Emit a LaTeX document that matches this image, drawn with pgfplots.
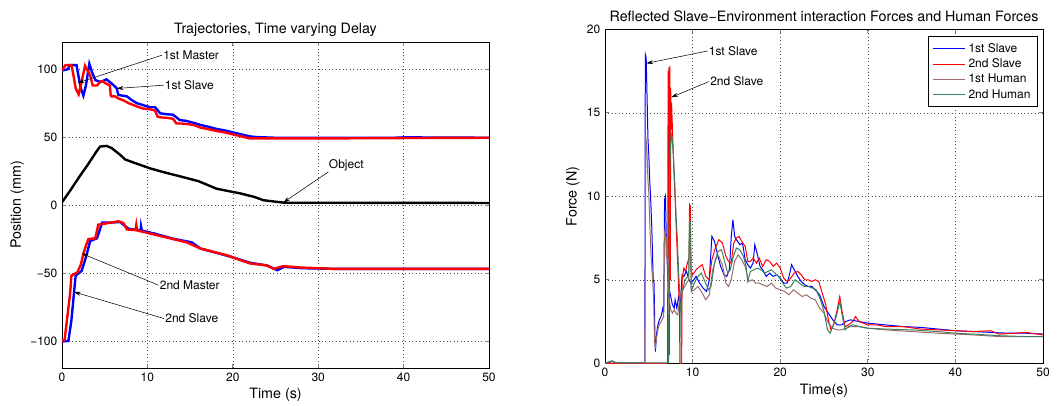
\documentclass[border=0pt]{standalone}
\usepackage{fontspec}
\setmainfont{TeX Gyre Heros}
\usepackage{pgfplots}
\pgfplotsset{compat=1.18}
\usetikzlibrary{arrows.meta}

\definecolor{mblue}{rgb}{0,0,1}
\definecolor{mred}{rgb}{1,0,0}
\definecolor{hbrown}{HTML}{9E6B6B}
\definecolor{hgreen}{HTML}{3E7F5E}

\pgfplotsset{
  mstyle/.style={
    scale only axis, xmin=0, xmax=50, xtick={0,10,...,50},
    grid=major,
    major grid style={black!70, line width=0.4pt, dash pattern=on 0.4pt off 2.2pt},
    tick align=inside, tick pos=both, major tick length=3pt,
    axis line style={line width=0.6pt},
    tick style={line width=0.5pt},
    tick label style={font=\fontsize{9}{10}\selectfont},
    label style={font=\fontsize{10.7}{12}\selectfont},
    title style={font=\fontsize{10.7}{12}\selectfont, anchor=center},
    every axis title shift=0pt,
    /pgf/number format/assume math mode=true,
  },
}
\tikzset{
  note/.style={font=\fontsize{9}{10}\selectfont, inner sep=0.8pt},
  arr/.style={-{Stealth[length=5pt,width=3pt]}, line width=0.4pt},
}

\begin{document}
\begin{tikzpicture}
\path[use as bounding box] (0,0) rectangle (794.25pt,303.75pt);

% ---------------- left: trajectories ----------------
\begin{axis}[mstyle,
  at={(46.5pt,27.75pt)}, anchor=south west,
  width=320.25pt, height=244.5pt,
  ymin=-120, ymax=120, ytick={-100,-50,0,50,100},
  yticklabels={−100,−50,0,50,100},
  title={Trajectories, Time varying Delay},
  title style={at={(axis description cs:0.5,1.038)}},
  xlabel={Time (s)}, ylabel={Position (mm)},
  xlabel style={at={(axis description cs:0.5,-0.083)}, anchor=center},
  ylabel style={at={(axis description cs:-0.105,0.5)}, anchor=center},
]
\addplot[color=mblue, line width=1.8pt] table {
0 99
0.7 100
0.9 103
1.7 103
1.9 96
2.2 86
2.5 80.5
2.8 88
3.2 104
3.5 98
3.9 92
4.5 90.5
5.2 92.5
5.8 89.5
6.4 86
6.6 81
7.6 80
8.1 77.5
8.75 75
9.5 73.5
10.3 72
10.9 72
11.5 67.5
12.3 66.8
13.0 66.5
13.8 62.5
14.5 62
15.4 60.5
16.2 59
17.2 57.5
18.1 56
19 55
20.0 53.5
21 52
22.0 50.5
22.8 50
25 49.5
30 49.5
39 49.5
40 49.8
50 49.5
};
\addplot[color=mred, line width=1.8pt] table {
0 99
0.4 103
1.1 103
1.3 97
1.6 86
1.95 81.5
2.2 88
2.7 102.5
3.0 99
3.3 95.5
3.6 88
4.1 88
4.5 91
4.8 91
5.0 90
5.6 88
5.7 81
5.8 80
6.2 80
6.6 78.5
7.2 77
7.8 75
8.4 73.5
9.0 72
9.5 71
10.3 70.5
10.9 69.5
11.2 65
11.6 64.5
12.5 64
13.0 63.5
13.4 60
14.0 60
14.8 59.5
15.4 59
16.2 57
17.0 56
18.1 54.5
19.0 53.5
20.0 52
21.0 50.5
22.0 49
23.6 49
30 49
40 49.3
50 49.5
};
\addplot[color=black, line width=1.8pt] table {
0 2
1 11
2 20.5
3 29.5
4 39
4.45 43
5.2 43.5
5.8 42
6.2 40
6.8 37
7.4 33.5
8.5 31
10.3 27
12 24
14.2 20.5
16 17.5
18.1 12
20.9 8.5
22.5 6
23.6 3.5
26 1.7
50 1.5
};
\addplot[color=mblue, line width=1.8pt] table {
0 -100.5
0.75 -100
1.1 -85
1.4 -65
1.6 -52
2.3 -48.5
2.8 -38.5
3.3 -26.5
4.1 -24.5
4.7 -13
5.6 -13
6.8 -12.5
7.8 -17.5
9.2 -18.7
9.25 -15.5
9.35 -18.8
10.8 -21
13 -24.8
15.2 -27.5
16.2 -32
20 -38.5
22 -42.5
24 -44.5
25.2 -48
26 -45.5
28 -46.5
32 -47
50 -47
};
\addplot[color=mred, line width=1.8pt] table {
0 -100
0.3 -99.5
0.95 -65
1.1 -52
1.8 -49.5
2.2 -44
2.5 -36
2.8 -30
3.1 -25
3.9 -24.5
4.25 -14.5
5.2 -13.5
6.6 -12
7.2 -13.3
7.6 -18
8.6 -18.5
8.7 -14.5
8.8 -18.7
10.3 -21
12.3 -24
14.6 -27.5
16.2 -32
19.3 -37
22 -43
24 -44.5
24.8 -47
25.9 -45
27.9 -46
31.8 -47
50 -47
};
\draw[arr] (11.7,110.3) -- (1.84,89.9);
\node[note, anchor=west] at (11.7,110.3) {1st Master};
\draw[arr] (11.9,88.2) -- (6.4,85.8);
\node[note, anchor=west] at (11.9,88.2) {1st Slave};
\draw[arr] (31.2,24.4) -- (25.9,1.8);
\node[note, anchor=south west] at (31.1,24.0) {Object};
\draw[arr] (11.3,-59) -- (2.3,-35.7);
\node[note, anchor=west] at (11.3,-59) {2nd Master};
\draw[arr] (11.95,-83.6) -- (1.4,-64);
\node[note, anchor=west] at (11.95,-83.6) {2nd Slave};
\end{axis}

% ---------------- right: forces ----------------
\begin{axis}[mstyle,
  at={(453.75pt,31.3pt)}, anchor=south west,
  width=328.5pt, height=250.5pt,
  ymin=0, ymax=20, ytick={0,5,...,20},
  title={Reflected Slave−Environment interaction Forces and Human Forces},
  title style={at={(axis description cs:0.5,1.038)}},
  xlabel={Time(s)}, ylabel={Force (N)},
  xlabel style={at={(axis description cs:0.5,-0.081)}, anchor=center},
  ylabel style={at={(axis description cs:-0.073,0.5)}, anchor=center},
  legend style={at={(0.988,0.98)}, anchor=north east,
    inner xsep=3pt, inner ysep=3pt, row sep=-0.6pt,
    font=\fontsize{9}{10}\selectfont, thick},
  legend cell align=left,
  legend image code/.code={%
    \draw[#1, line width=0.75pt] (0pt,0pt) -- (24pt,0pt);},
]
\addplot[color=mblue, line width=0.75pt] table {
0 0
0.5 0.05
0.8 0.12
1.2 0.03
2 0.02
4.55 0.02
4.6 18.5
4.7 18.3
4.8 16.0
4.9 13.5
5.0 12.5
5.1 11.0
5.2 10.0
5.35 8.0
5.5 5.0
5.6 4.8
5.7 1.5
5.75 0.7
5.9 1.8
6.0 2.2
6.2 2.6
6.4 2.8
6.6 3.3
6.7 3.0
6.8 9.8
6.9 10.0
7.0 7.5
7.1 6.0
7.2 5.0
7.3 4.5
7.5 4.0
7.7 3.5
7.9 3.3
8.0 3.8
8.2 3.3
8.4 4.0
8.6 3.5
8.8 5.3
9.0 5.2
9.3 5.5
9.6 5.0
9.8 4.8
10.0 4.9
10.4 5.2
10.8 4.8
11.2 4.5
11.6 4.3
11.9 5.0
12.2 7.6
12.5 7.3
12.8 6.6
13.2 5.8
13.6 5.3
13.9 5.2
14.2 5.6
14.4 7.5
14.6 8.6
14.8 7.6
15.0 7.4
15.4 7.1
15.7 7.2
16.0 6.2
16.3 5.9
16.6 5.7
16.9 6.0
17.1 7.1
17.4 6.5
17.7 5.8
18.0 5.6
18.4 5.2
18.8 5.4
19.2 5.2
19.6 5.3
20.0 5.1
20.4 4.8
20.8 4.8
21.1 5.4
21.3 5.9
21.6 5.6
22.0 5.2
22.4 4.9
22.8 4.7
23.2 4.6
23.6 4.6
24.0 4.4
24.5 4.1
25.0 3.4
25.5 3.0
26.0 2.6
26.5 2.3
27.0 2.3
27.5 2.5
28.0 2.6
29.0 2.5
30.0 2.4
31 2.35
32 2.3
34 2.2
36 2.15
38 2.05
40 1.95
42 1.9
44 1.85
46 1.8
48 1.8
50 1.75
};
\addlegendentry{1st Slave}
\addplot[color=mred, line width=0.75pt] table {
0 0
4 0
7.15 0
7.2 17.5
7.25 9
7.3 17.7
7.35 0.5
7.4 17.8
7.45 5
7.5 16.5
7.55 14.0
7.6 15.6
7.7 14.0
7.8 12.5
7.9 11.0
8.0 10.0
8.1 8.5
8.2 7.2
8.3 6.0
8.4 4.5
8.5 3.5
8.55 0
8.75 0
8.8 5.0
9.0 5.7
9.2 5.5
9.4 6.0
9.6 6.3
9.65 9.5
9.75 9.4
9.8 5.6
10.0 5.3
10.4 5.6
10.8 5.8
11.1 5.9
11.5 5.2
11.9 5.0
12.2 6.2
12.6 6.9
13.0 7.4
13.4 7.2
13.8 6.4
14.1 6.1
14.4 6.0
14.7 7.2
15.0 7.5
15.3 7.6
15.6 7.3
16.0 7.0
16.3 6.1
16.6 6.1
16.9 6.3
17.3 6.0
17.6 6.3
18.0 5.8
18.4 6.2
18.8 6.1
19.2 5.8
19.6 6.0
20.0 5.7
20.4 5.1
20.8 4.9
21.2 5.1
21.6 5.4
22.0 5.5
22.4 5.3
22.8 5.0
23.2 5.0
23.6 4.9
24.0 5.0
24.4 4.9
24.8 4.2
25.2 3.5
25.5 2.6
25.8 2.0
26.1 2.3
26.5 3.2
26.8 4.0
27.1 3.0
27.4 2.2
27.8 2.3
28.3 2.5
28.6 2.8
29.0 2.5
30.0 2.3
31 2.3
32 2.2
34 2.2
36 2.05
38 2.0
40 1.95
42 1.9
44 1.95
45 1.75
47 1.8
48 1.85
50 1.7
};
\addlegendentry{2nd Slave}
\addplot[color=hbrown, line width=0.75pt] table {
0 0
0.5 0.08
0.8 0.1
1.2 0.03
4.55 0.02
4.65 13.5
4.75 13.2
4.9 11.0
5.0 10.2
5.1 8.5
5.25 6.5
5.4 5.2
5.55 4.0
5.65 1.2
5.75 1.0
5.9 1.6
6.1 2.2
6.4 2.5
6.7 2.8
6.8 7.8
6.9 8.2
7.0 6.3
7.1 7.6
7.2 5.5
7.3 4.0
7.5 3.2
7.7 3.0
7.9 3.2
8.1 3.0
8.3 2.9
8.5 3.8
8.7 4.3
9.0 4.5
9.3 4.8
9.55 5.0
9.65 8.0
9.75 7.8
9.85 4.3
10.2 4.4
10.6 4.6
11.0 4.3
11.5 3.8
11.9 4.1
12.3 5.6
12.7 6.3
13.0 6.4
13.4 5.9
13.8 4.8
14.1 4.6
14.4 5.0
14.8 6.1
15.2 6.5
15.6 6.2
16.0 5.8
16.4 4.9
16.8 5.0
17.2 4.8
17.6 4.8
18.0 4.7
18.5 4.6
19.0 4.8
19.5 4.5
20.0 4.4
20.5 4.3
21.0 4.1
21.5 4.4
22.0 4.2
22.5 4.0
23.0 4.1
23.5 3.9
24.0 3.8
24.5 3.3
25.0 3.0
25.5 2.4
26.0 2.1
26.5 2.0
27.0 2.0
28.0 2.2
29 2.2
30 2.1
32 2.0
35 1.9
38 1.8
40 1.75
42 1.7
45 1.6
48 1.6
50 1.6
};
\addlegendentry{1st Human}
\addplot[color=hgreen, line width=0.75pt] table {
0 0
0.5 0.1
0.8 0.15
1.2 0.05
2 0.02
7.25 0.02
7.35 11.0
7.45 12.5
7.55 13.8
7.65 13.5
7.8 12.5
7.95 11.0
8.1 9.0
8.25 7.5
8.4 5.5
8.55 4.0
8.65 3.0
8.7 0.0
8.75 4.2
8.9 4.4
9.1 5.0
9.3 5.1
9.55 5.2
9.65 8.6
9.75 8.4
9.85 4.3
10.2 4.8
10.6 5.2
11.0 5.4
11.4 4.9
11.8 4.4
12.1 4.6
12.5 6.0
12.9 6.7
13.3 6.8
13.7 6.0
14.0 5.4
14.3 5.6
14.6 6.3
15.0 6.9
15.4 6.8
15.8 6.4
16.1 5.8
16.3 4.9
16.6 5.5
17.0 5.6
17.4 5.7
17.8 5.6
18.2 5.4
18.6 5.5
19.0 5.6
19.4 5.4
19.8 5.2
20.3 4.8
20.7 4.5
21.2 4.6
21.7 5.0
22.2 4.8
22.7 4.6
23.2 4.6
23.7 4.5
24.1 4.4
24.6 3.8
25.0 3.1
25.4 2.0
25.7 1.8
26.0 2.2
26.4 2.8
26.8 3.7
27.1 2.8
27.4 2.0
27.8 2.2
28.3 2.3
29 2.2
30 2.1
32 2.05
35 2.0
38 1.9
40 1.8
42 1.75
45 1.65
48 1.6
50 1.6
};
\addlegendentry{2nd Human}
\draw[arr] (11.7,18.7) -- (4.72,17.96);
\node[note, anchor=west] at (11.7,18.7) {1st Slave};
\draw[arr] (11.87,16.87) -- (7.57,15.93);
\node[note, anchor=west] at (11.87,16.87) {2nd Slave};
\end{axis}
\end{tikzpicture}
\end{document}
